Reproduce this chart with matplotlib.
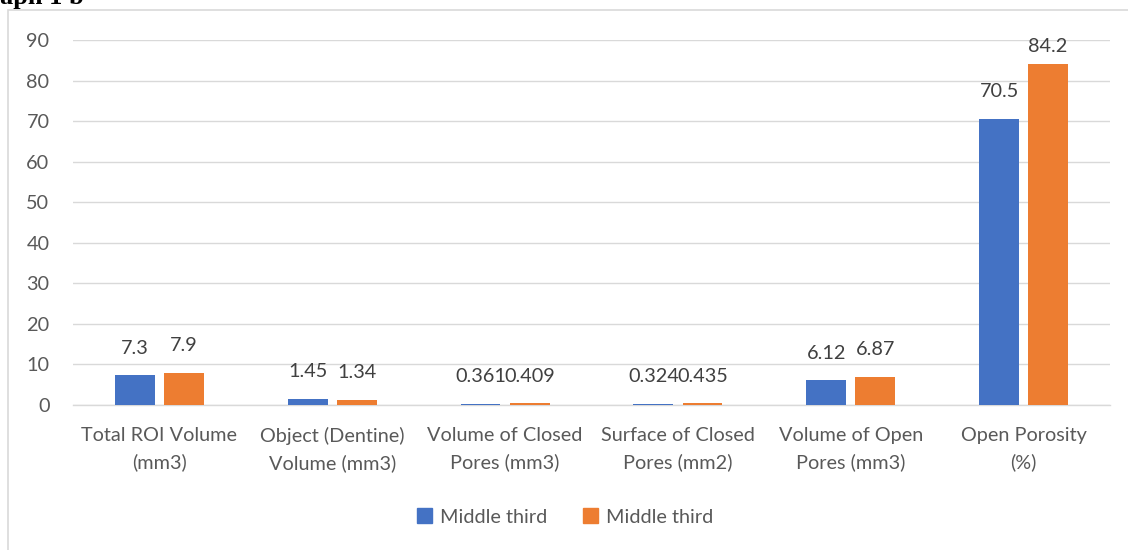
import numpy as np
import matplotlib.pyplot as plt
from matplotlib.patches import Rectangle, Patch

categories = ['Total ROI Volume\n(mm3)', 'Object (Dentine)\nVolume (mm3)',
              'Volume of Closed\nPores (mm3)', 'Surface of Closed\nPores (mm2)',
              'Volume of Open\nPores (mm3)', 'Open Porosity\n(%)']
series1 = [7.3, 1.45, 0.361, 0.324, 6.12, 70.5]
series2 = [7.9, 1.34, 0.409, 0.435, 6.87, 84.2]
labels1 = ['7.3', '1.45', '0.361', '0.324', '6.12', '70.5']
labels2 = ['7.9', '1.34', '0.409', '0.435', '6.87', '84.2']
series_names = ['Middle third', 'Middle third']
yticks = np.arange(0, 100, 10)

plt.rcParams['font.family'] = ['Lato', 'DejaVu Sans']

blue = '#4472C4'
orange = '#ED7D31'
grid_c = '#D9D9D9'
text_c = '#595959'
fs = 14.3
ymax = 90

fig = plt.figure(figsize=(11.28, 5.5), dpi=100)
ax = fig.add_axes([73/1128, 1-405/550, (1110-73)/1128, (405-40)/550])

x = np.arange(len(categories))
off = 0.142
w = 0.23
b1 = ax.bar(x - off, series1, w, color=blue, zorder=3)
b2 = ax.bar(x + off, series2, w, color=orange, zorder=3)

# data labels, kept inside the plot area like Excel does
for bars, labs in [(b1, labels1), (b2, labels2)]:
    for rect, lab in zip(bars, labs):
        ypos = min(rect.get_height() + 6.7, ymax - 1.7)
        ax.text(rect.get_x() + rect.get_width()/2, ypos, lab,
                ha='center', va='center', fontsize=fs, color='#404040')

ax.set_xlim(-0.5, len(categories) - 0.5)
ax.set_ylim(0, ymax)
ax.set_yticks(yticks)
ax.set_xticks(x)
ax.set_xticklabels(categories, fontsize=fs, color=text_c, linespacing=1.62)
ax.tick_params(axis='y', labelsize=fs, labelcolor=text_c, length=0, pad=17)
ax.tick_params(axis='x', length=0, pad=16)
ax.yaxis.grid(True, color=grid_c, linewidth=1, zorder=0)
for s in ['top', 'right', 'left']:
    ax.spines[s].set_visible(False)
ax.spines['bottom'].set_color(grid_c)
ax.spines['bottom'].set_linewidth(1)

handles = [Patch(color=blue), Patch(color=orange)]
fig.legend(handles, series_names, loc='center', bbox_to_anchor=(565/1128, 1-517/550),
           ncol=2, frameon=False, fontsize=fs, labelcolor=text_c,
           handlelength=0.75, handleheight=0.75, handletextpad=0.4, columnspacing=1.8)

# chart frame
fig.patches.append(Rectangle((8/1128, -0.1), 1.2, 1.1 - 10/550,
                             transform=fig.transFigure, fill=False,
                             edgecolor=grid_c, linewidth=1.2))

fig.text(0.0, 1 - 4/550, 'aph 1 b', fontsize=19, fontweight='bold', family='Liberation Serif',
         ha='left', va='baseline')

fig.savefig('out.png', dpi=100)
